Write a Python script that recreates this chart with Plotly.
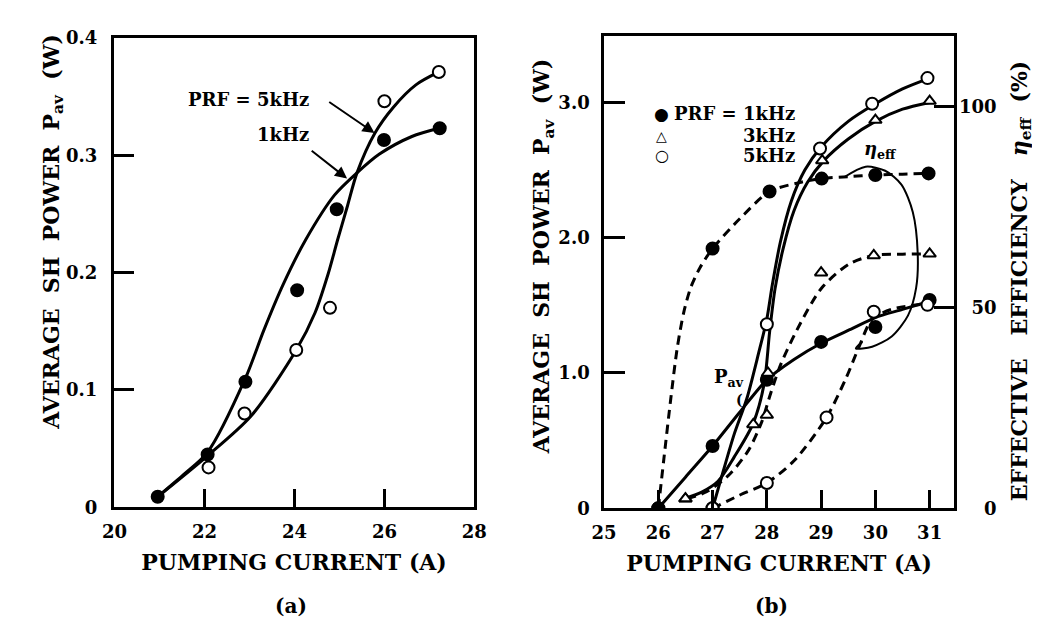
import plotly.graph_objects as go

FONT = "DejaVu Serif"

# ---------------- Panel (a): average SH power vs pumping current ----------------
a_cur_1k = [20.96, 22.07, 22.91, 24.06, 24.94, 25.99, 27.23]
a_pow_1k = [0.009, 0.045, 0.107, 0.185, 0.254, 0.313, 0.323]
a_cur_5k = [22.09, 22.89, 24.04, 24.79, 26.00, 27.21]
a_pow_5k = [0.034, 0.080, 0.134, 0.170, 0.346, 0.371]

# hand-drawn fitted curves
a_fit_1k_x = [20.96, 21.54, 22.07, 22.91, 23.32, 23.75, 24.25, 24.89, 25.39, 25.89, 26.61, 27.21]
a_fit_1k_y = [0.009, 0.028, 0.047, 0.110, 0.151, 0.190, 0.228, 0.266, 0.285, 0.301, 0.316, 0.323]
a_fit_5k_x = [20.96, 22.04, 23.04, 24.04, 24.46, 24.75, 24.96, 25.18, 25.39, 25.79, 26.2, 26.7, 27.21]
a_fit_5k_y = [0.009, 0.043, 0.078, 0.134, 0.166, 0.199, 0.228, 0.257, 0.285, 0.319, 0.341, 0.360, 0.371]

a_xticks = [20, 22, 24, 26, 28]
a_yticks = [0, 0.1, 0.2, 0.3, 0.4]
a_yticktext = ["0", "0.1", "0.2", "0.3", "0.4"]

# ---------------- Panel (b): P_av (W, left) and eta_eff (%, right) ----------------
b_cur_1k_p = [26.0, 27.0, 28.0, 29.0, 30.0, 31.0]
b_pow_1k = [0.0, 0.46, 0.95, 1.23, 1.34, 1.54]
b_cur_3k_p = [26.5, 27.75, 28.02, 29.02, 30.0, 31.0]
b_pow_3k = [0.07, 0.62, 1.0, 2.57, 2.87, 3.01]
b_cur_5k_p = [27.0, 28.0, 28.98, 29.94, 30.96]
b_pow_5k = [0.0, 1.36, 2.66, 2.99, 3.18]

b_cur_1k_e = [26.0, 27.0, 28.05, 29.01, 30.0, 30.98]
b_eff_1k = [0.0, 64.6, 78.8, 82.0, 82.9, 83.3]
b_cur_3k_e = [26.5, 28.0, 29.0, 29.97, 31.0]
b_eff_3k = [2.4, 23.2, 58.6, 62.9, 63.3]
b_cur_5k_e = [27.0, 28.0, 29.1, 29.97, 30.96]
b_eff_5k = [0.0, 6.3, 22.6, 48.9, 50.6]

# fitted curves
b_fit_p1k_x = [26.0, 26.5, 27.0, 27.5, 28.0, 28.5, 29.0, 29.58, 30.0, 30.5, 31.0]
b_fit_p1k_y = [0.0, 0.23, 0.46, 0.71, 0.95, 1.10, 1.22, 1.33, 1.41, 1.47, 1.53]
b_fit_p3k_x = [26.47, 26.8, 27.1, 27.4, 27.75, 27.95, 28.05, 28.15, 28.3, 28.5, 28.75, 29.05, 29.5, 30.0, 30.5, 31.0]
b_fit_p3k_y = [0.07, 0.12, 0.20, 0.38, 0.63, 0.92, 1.30, 1.62, 1.92, 2.20, 2.41, 2.57, 2.73, 2.86, 2.95, 3.0]
b_fit_p5k_x = [27.0, 27.2, 27.4, 27.63, 27.85, 28.0, 28.1, 28.25, 28.45, 28.7, 29.0, 29.5, 30.0, 30.5, 31.0]
b_fit_p5k_y = [0.0, 0.28, 0.55, 0.81, 1.15, 1.40, 1.65, 1.97, 2.27, 2.50, 2.67, 2.86, 2.99, 3.10, 3.18]

b_fit_e1k_x = [26.0, 26.1, 26.23, 26.35, 26.47, 26.6, 26.77, 27.0, 27.5, 28.05, 28.6, 29.0, 29.5, 30.0, 30.5, 31.0]
b_fit_e1k_y = [0.0, 12.0, 27.3, 40.0, 48.8, 55.0, 59.9, 64.6, 72.0, 78.8, 81.0, 82.0, 82.5, 82.9, 83.1, 83.3]
b_fit_e3k_x = [26.53, 26.89, 27.31, 27.66, 27.9, 28.08, 28.26, 28.56, 29.01, 29.52, 29.97, 30.5, 31.0]
b_fit_e3k_y = [2.4, 4.1, 8.4, 14.4, 21.3, 29.0, 35.9, 44.5, 54.8, 60.8, 62.9, 63.2, 63.3]
b_fit_e5k_x = [27.0, 27.49, 28.0, 28.5, 29.1, 29.46, 29.7, 29.94, 30.3, 30.96]
b_fit_e5k_y = [0.0, 3.2, 6.3, 11.8, 22.6, 32.4, 40.2, 47.0, 49.5, 50.9]

# loop drawn around the efficiency curves (eta_eff label), in W units
b_loop_x = [29.43, 29.82, 30.18, 30.48, 30.69, 30.78, 30.75, 30.60, 30.30, 29.94, 29.64, 29.76]
b_loop_y = [2.449, 2.525, 2.495, 2.393, 2.189, 1.882, 1.627, 1.424, 1.27, 1.194, 1.181, 1.23]

b_xticks = [25, 26, 27, 28, 29, 30, 31]
b_yticks = [0, 1.0, 2.0, 3.0]
b_yticktext = ["0", "1.0", "2.0", "3.0"]
b_y2ticks = [0, 50, 100]
b_y2ticktext = ["\u2007\u20070", "\u200750", "100"]

# legend inset of panel (b)
leg_symbols = ["●", "△", "○"]
leg_labels = ["PRF = 1kHz", "3kHz", "5kHz"]

BLACK = "black"
LW = 3

fig = go.Figure()


def line(x, y, xa, ya, dash="solid", width=LW):
    fig.add_trace(go.Scatter(x=x, y=y, xaxis=xa, yaxis=ya, mode="lines",
                             line=dict(color=BLACK, width=width, dash=dash, shape="spline", smoothing=0.8),
                             showlegend=False, hoverinfo="skip"))


def marks(x, y, xa, ya, symbol, filled=True):
    fig.add_trace(go.Scatter(x=x, y=y, xaxis=xa, yaxis=ya, mode="markers",
                             marker=dict(symbol=symbol, size=12 if symbol == "circle" else 11,
                                         color=BLACK if filled else "white",
                                         line=dict(color=BLACK, width=2)),
                             showlegend=False))


# panel (a)
line(a_fit_1k_x, a_fit_1k_y, "x", "y")
line(a_fit_5k_x, a_fit_5k_y, "x", "y")
marks(a_cur_1k, a_pow_1k, "x", "y", "circle")
marks(a_cur_5k, a_pow_5k, "x", "y", "circle", filled=False)

# panel (b)
DASH = "9px,6px"
line(b_fit_e1k_x, b_fit_e1k_y, "x2", "y3", dash=DASH)
line(b_fit_e3k_x, b_fit_e3k_y, "x2", "y3", dash=DASH)
line(b_fit_e5k_x, b_fit_e5k_y, "x2", "y3", dash=DASH)
line(b_fit_p1k_x, b_fit_p1k_y, "x2", "y2")
line(b_fit_p3k_x, b_fit_p3k_y, "x2", "y2")
line(b_fit_p5k_x, b_fit_p5k_y, "x2", "y2")
line(b_loop_x, b_loop_y, "x2", "y2", width=2)

marks(b_cur_1k_e, b_eff_1k, "x2", "y3", "circle")
marks(b_cur_3k_e, b_eff_3k, "x2", "y3", "triangle-up", filled=False)
marks(b_cur_5k_e, b_eff_5k, "x2", "y3", "circle", filled=False)
marks(b_cur_1k_p, b_pow_1k, "x2", "y2", "circle")
marks(b_cur_3k_p, b_pow_3k, "x2", "y2", "triangle-up", filled=False)
marks(b_cur_5k_p, b_pow_5k, "x2", "y2", "circle", filled=False)

tick_font = dict(family=FONT, size=18, color=BLACK, weight="bold")
title_font = dict(family=FONT, size=22, color=BLACK, weight="bold")

axis_common = dict(showline=True, linecolor=BLACK, linewidth=2.5, mirror=True, showgrid=False,
                   zeroline=False, ticks="inside", tickcolor=BLACK, tickwidth=2.5,
                   tickfont=tick_font)

fig.update_layout(
    width=1040, height=621,
    margin=dict(l=0, r=0, t=0, b=0),
    paper_bgcolor="white", plot_bgcolor="white",
    showlegend=False,
    xaxis=dict(domain=[95 / 1040, 465 / 1040], range=[19.98, 28.0], anchor="y",
               tickvals=a_xticks, ticklen=19, ticklabelstandoff=6,
               title=dict(text="PUMPING CURRENT (A)", font=title_font, standoff=14), **axis_common),
    yaxis=dict(domain=[(621 - 505.4) / 621, (621 - 19.6) / 621], range=[0, 0.4], anchor="x",
               tickvals=a_yticks, ticktext=a_yticktext, ticklen=21, ticklabelstandoff=10, **axis_common),
    xaxis2=dict(domain=[598 / 1040, 957 / 1040], range=[25, 31.45], anchor="y2",
                tickvals=b_xticks, ticklen=19, ticklabelstandoff=6,
                title=dict(text="PUMPING CURRENT (A)", font=title_font, standoff=14), **axis_common),
    yaxis2=dict(domain=[(621 - 506.4) / 621, (621 - 17.9) / 621], range=[0, 3.489], anchor="x2",
                tickvals=b_yticks, ticktext=b_yticktext, ticklen=21, ticklabelstandoff=8, **axis_common),
    yaxis3=dict(overlaying="y2", side="right", anchor="x2", range=[0, 117.4],
                tickvals=b_y2ticks, ticktext=b_y2ticktext, ticklen=20, ticklabelstandoff=4,
                showline=False, showgrid=False, zeroline=False, ticks="inside", tickcolor=BLACK,
                tickwidth=2.5, tickfont=tick_font),
)

ann_font = dict(family=FONT, size=18, color=BLACK, weight="bold")
S = "\u00a0"
annotations = [
    # axis titles (rotated)
    dict(text="AVERAGE" + S * 2 + "SH" + S * 2 + "POWER" + S * 2 + "P<sub>av</sub>" + S * 2 + "(W)",
         x=32 / 1040, y=(621 - 220) / 621, textangle=-90, font=title_font),
    dict(text="AVERAGE" + S * 2 + "SH" + S * 2 + "POWER" + S * 2 + "P<sub>av</sub>" + S * 2 + "(W)",
         x=535 / 1040, y=(621 - 246) / 621, textangle=-90, font=title_font),
    dict(text="EFFECTIVE" + S * 3 + "EFFICIENCY" + S * 3 + "<i>η</i><sub>eff</sub>" + S * 2 + "(%)",
         x=1025 / 1040, y=(621 - 271) / 621, textangle=-90, font=title_font),
    # panel captions
    dict(text="(a)", x=277 / 1040, y=(621 - 608) / 621, font=dict(family=FONT, size=20, color=BLACK, weight="bold")),
    dict(text="(b)", x=770 / 1040, y=(621 - 608) / 621, font=dict(family=FONT, size=20, color=BLACK, weight="bold")),
    # panel (a) labels
    dict(text="PRF = 5kHz", x=233.5 / 1040, y=(621 - 83) / 621, font=ann_font),
    dict(text="1kHz", x=297 / 1040, y=(621 - 120) / 621, xanchor="right", font=ann_font),
]
# legend inset of panel (b): symbols and right-aligned labels
leg_rows_y = [98, 121, 141]
leg_sym_sizes = [17, 14, 16]
for sym, lab, yy, sz in zip(leg_symbols, leg_labels, leg_rows_y, leg_sym_sizes):
    annotations.append(dict(text=sym, x=657 / 1040, y=(621 - yy) / 621,
                            font=dict(family="DejaVu Sans", size=sz, color=BLACK)))
    annotations.append(dict(text=lab, x=796 / 1040, y=(621 - yy) / 621, xanchor="right", font=ann_font))

for a in annotations:
    a.setdefault("xref", "paper")
    a.setdefault("yref", "paper")
    a.setdefault("showarrow", False)
    a.setdefault("xanchor", "center")
    a.setdefault("yanchor", "middle")

# arrows in panel (a)
annotations += [
    dict(x=25.78, y=0.319, ax=24.74, ay=0.3463, xref="x", yref="y", axref="x", ayref="y",
         text="", showarrow=True, arrowhead=2, arrowsize=1.2, arrowwidth=2, arrowcolor=BLACK),
    dict(x=25.17, y=0.2802, ax=24.35, ay=0.3049, xref="x", yref="y", axref="x", ayref="y",
         text="", showarrow=True, arrowhead=2, arrowsize=1.2, arrowwidth=2, arrowcolor=BLACK),
    # panel (b) labels
    dict(x=27.31, y=0.96, xref="x2", yref="y2", text="P<sub>av</sub>", showarrow=False,
         font=dict(family=FONT, size=18, color=BLACK, weight="bold")),
    dict(x=27.49, y=0.80, xref="x2", yref="y2", text="(", showarrow=False,
         font=dict(family=FONT, size=14, color=BLACK, weight="bold")),
    dict(x=30.1, y=2.65, xref="x2", yref="y2", text="<i>η</i><sub>eff</sub>", showarrow=False,
         font=dict(family=FONT, size=18, color=BLACK, weight="bold")),
]
fig.update_layout(annotations=annotations)

fig.write_html("out.html")
